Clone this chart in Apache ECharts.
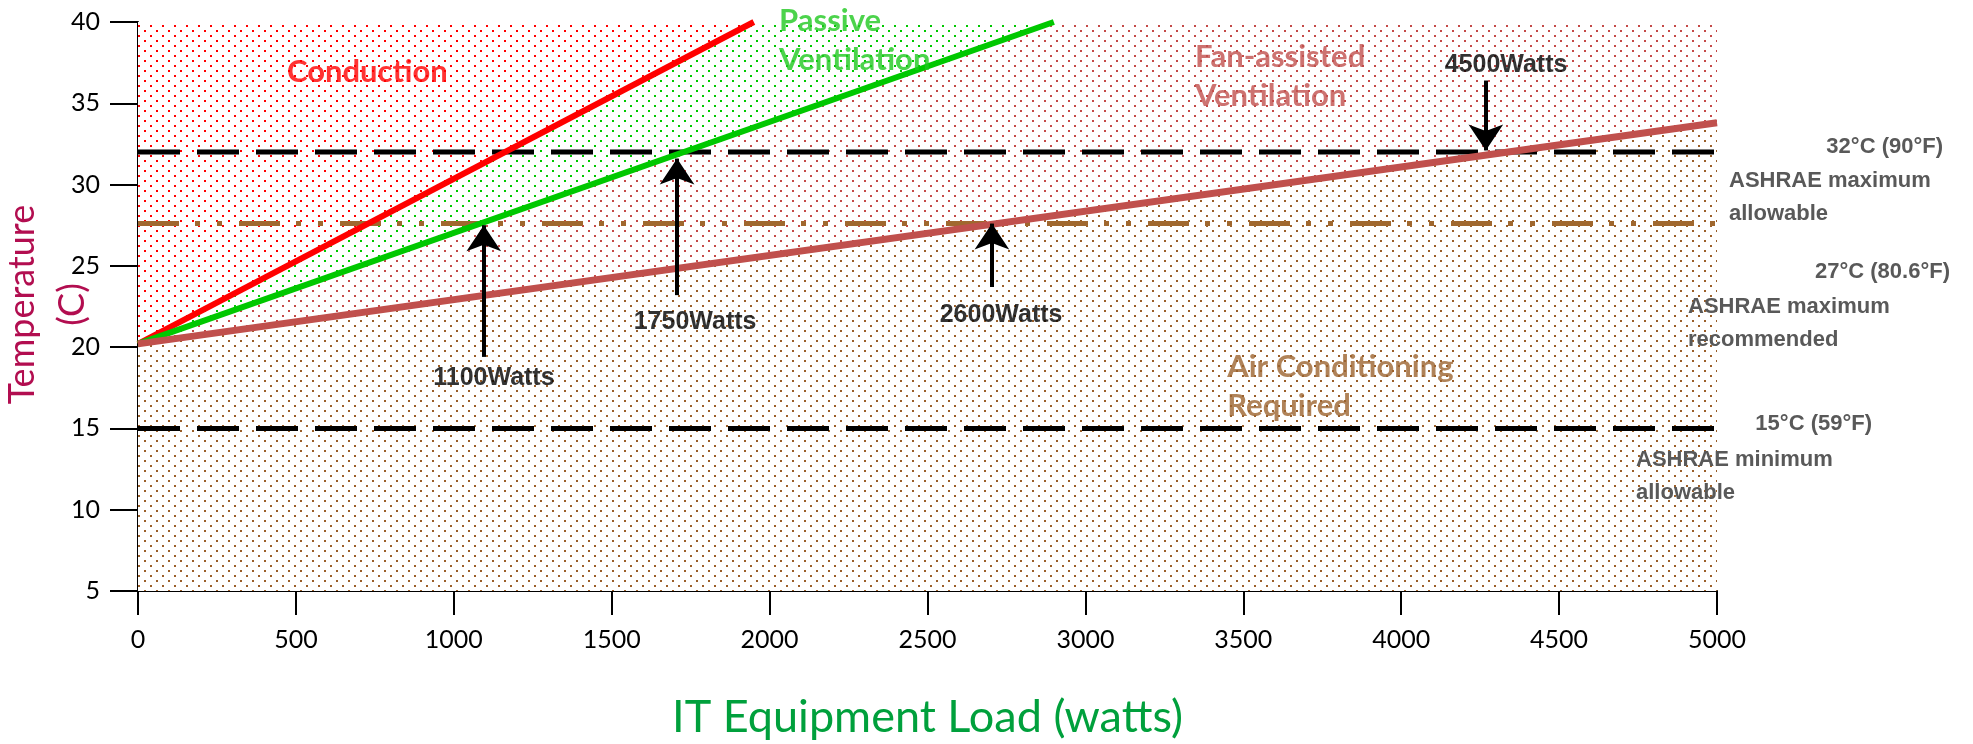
<!DOCTYPE html>
<html>
<head>
<meta charset="utf-8">
<title>IT Equipment Load vs Temperature</title>
<script src="https://cdn.jsdelivr.net/npm/echarts@6/dist/echarts.min.js"></script>
<style>
  html, body { margin: 0; padding: 0; background: #fff; }
  #chart { width: 1973px; height: 744px; }
</style>
</head>
<body>
<div id="chart"></div>
<script>
// axis ranges / ticks
var loadMin = 0
var loadMax = 5000
var loadStep = 500
var tempMin = 5
var tempMax = 40
var tempStep = 5

// boundary lines between cooling zones, [watts, degC]
var conductionLine = [[0, 20.2], [1950, 40]]
var passiveLine = [[0, 20.2], [2900, 40]]
var fanLine = [[0, 20.2], [5000, 33.8]]

// ASHRAE limits, degC
var limitValues = [32, 27.6, 15]
var limitTitles = ['32°C (90°F)', '27°C (80.6°F)', '15°C (59°F)']
var limitNotes = [['ASHRAE maximum', 'allowable'], ['ASHRAE maximum', 'recommended'], ['ASHRAE minimum', 'allowable']]

// arrows: [watts, from degC, to degC]
var arrows = [[1095, 19.4, 27.5], [1707, 23.2, 31.6], [2704, 23.7, 27.6], [4268, 36.4, 32.1]]
var arrowTexts = ['1100Watts', '1750Watts', '2600Watts', '4500Watts']
var arrowTextAt = [[1127, 18.1], [1764, 21.55], [2733, 21.98], [4332, 37.35]]

// zone names and where their text starts
var zoneNames = ['Conduction', 'Passive\nVentilation', 'Fan-assisted\nVentilation', 'Air Conditioning\nRequired']
var zoneTextAt = [[472, 36.92], [2030, 38.86], [3347, 36.62], [3449, 17.58]]

var zoneColors = ['#ff0000', '#1fc81f', '#c0504d', '#9c6430']
var dotColors = ['#ff0000', '#00c800', '#c44a48', '#9a5f2a']
var brown = '#a0682f'

function dotPattern (color) {
  var c = document.createElement('canvas')
  c.width = 12
  c.height = 10
  var ctx = c.getContext('2d')
  ctx.fillStyle = '#fff'
  ctx.fillRect(0, 0, 12, 10)
  ctx.fillStyle = color
  ctx.fillRect(0, 0, 2, 2)
  ctx.fillRect(6, 5, 2, 2)
  return { image: c, repeat: 'repeat' }
}

function zone (data, i) {
  return {
    type: 'line', data: data, z: 1, silent: true, showSymbol: false,
    lineStyle: { width: 0 },
    areaStyle: { color: dotPattern(dotColors[i]), opacity: 1, origin: 'start' }
  }
}

function hline (t, color, dash) {
  return {
    type: 'line', data: [[loadMin, t], [loadMax, t]], z: 2, silent: true, showSymbol: false,
    lineStyle: { color: color, width: 5, type: dash, cap: 'butt' }
  }
}

function boundary (data, color, width) {
  return {
    type: 'line', data: data, z: 3, silent: true, showSymbol: false,
    lineStyle: { color: color, width: width, cap: 'butt' }
  }
}

var topEdge = [[loadMax, tempMax]]

var chart = echarts.init(document.getElementById('chart'))

chart.setOption({
  animation: false,
  backgroundColor: '#fff',
  grid: { left: 138, right: 256, top: 22, bottom: 153 },
  xAxis: {
    type: 'value', min: loadMin, max: loadMax, interval: loadStep,
    axisLine: { show: true, onZero: false, lineStyle: { color: '#000', width: 2 } },
    axisTick: { show: true, length: 24, lineStyle: { color: '#000', width: 2 } },
    axisLabel: {
      margin: 36, fontFamily: 'Lato', fontSize: 25, color: '#000',
      formatter: function (v) { return String(v) }
    },
    splitLine: { show: false }
  },
  yAxis: {
    type: 'value', min: tempMin, max: tempMax, interval: tempStep,
    axisLine: { show: true, lineStyle: { color: '#000', width: 2 } },
    axisTick: { show: true, length: 28, lineStyle: { color: '#000', width: 2 } },
    axisLabel: { margin: 38, fontFamily: 'Lato', fontSize: 25, color: '#000' },
    splitLine: { show: false }
  },
  series: [
    zone([[loadMin, tempMax], [loadMax, tempMax]], 0),
    zone(conductionLine.concat(topEdge), 1),
    zone(passiveLine.concat(topEdge), 2),
    zone(fanLine, 3),
    hline(limitValues[0], '#000', [42, 17]),
    hline(limitValues[1], brown, [41, 16, 5, 17, 5, 17]),
    hline(limitValues[2], '#000', [42, 17]),
    boundary(conductionLine, '#ff0000', 6),
    boundary(passiveLine, '#00c800', 6),
    boundary(fanLine, '#c0504d', 7),
    {
      type: 'line', data: [], z: 4, silent: true,
      markLine: {
        silent: true, animation: false,
        symbol: ['none', 'arrow'], symbolSize: 26,
        label: { show: false },
        lineStyle: { color: '#000', width: 4, type: 'solid' },
        data: arrows.map(function (a) {
          return [{ coord: [a[0], a[1]] }, { coord: [a[0], a[2]] }]
        })
      }
    },
    {
      type: 'scatter', symbolSize: 0, z: 5, silent: true, clip: false,
      data: zoneNames.map(function (name, i) {
        return { name: name, value: zoneTextAt[i], label: { color: zoneColors[i] } }
      }),
      label: {
        show: true, position: 'inside', align: 'left', verticalAlign: 'middle',
        formatter: '{b}', fontFamily: 'Lato', fontWeight: 'bold', fontSize: 31, lineHeight: 39
      }
    },
    {
      type: 'scatter', symbolSize: 0, z: 5, silent: true, clip: false,
      data: arrowTexts.map(function (name, i) {
        return { name: name, value: arrowTextAt[i] }
      }),
      label: {
        show: true, position: 'inside', align: 'center', verticalAlign: 'middle',
        formatter: '{b}', color: '#000', fontWeight: 'bold', fontSize: 25,
        fontFamily: '"Liberation Sans", Arial, sans-serif'
      }
    }
  ]
})

// texts outside the plot, placed from the axes' own scales
function px (x, y) {
  return chart.convertToPixel({ gridIndex: 0 }, [x, y])
}

var right = px(loadMax, tempMax)[0]
var mid = px((loadMin + loadMax) / 2, (tempMin + tempMax) / 2)
var titleRight = [226, 233, 155]
var titleDy = [-5, 48, -4]
var noteLeft = [12, -29, -81]
var noteDy = [28, 83, 31]
var sideFont = { fontFamily: '"Liberation Sans", Arial, sans-serif', fontWeight: 'bold', fontSize: 22 }

var graphics = [
  {
    type: 'text', x: 47, y: mid[1] - 2, rotation: Math.PI / 2, z: 100, silent: true,
    style: { text: 'Temperature\n(C)', fill: '#b20e50', fontFamily: 'Lato', fontSize: 36, lineHeight: 50, align: 'center', verticalAlign: 'middle' }
  },
  {
    type: 'text', x: mid[0], y: 717, z: 100, silent: true,
    style: { text: 'IT Equipment Load (watts)', fill: '#00a03c', fontFamily: 'Lato', fontSize: 45, align: 'center', verticalAlign: 'middle' }
  }
]

limitValues.forEach(function (t, i) {
  var y = px(loadMax, t)[1]
  graphics.push({
    type: 'text', x: right + titleRight[i], y: y + titleDy[i], z: 100, silent: true,
    style: Object.assign({ text: limitTitles[i], fill: '#595959', align: 'right', verticalAlign: 'middle' }, sideFont)
  })
  graphics.push({
    type: 'text', x: right + noteLeft[i], y: y + noteDy[i] - 16, z: 100, silent: true,
    style: Object.assign({ text: limitNotes[i].join('\n'), fill: '#595959', align: 'left', verticalAlign: 'top', lineHeight: 33 }, sideFont)
  })
})

chart.setOption({ graphic: graphics })
</script>
</body>
</html>
